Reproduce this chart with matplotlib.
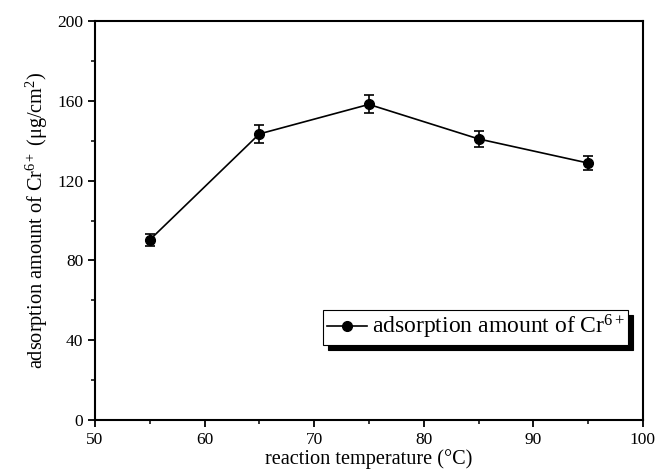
import numpy as np
import matplotlib.pyplot as plt

plt.rcParams['font.family'] = 'Liberation Serif'
plt.rcParams['mathtext.fontset'] = 'custom'
plt.rcParams['mathtext.rm'] = 'Liberation Serif'
plt.rcParams['mathtext.it'] = 'Liberation Serif:italic'

temperature = [55, 65, 75, 85, 95]
adsorption = [90.3, 143.4, 158.2, 140.9, 128.8]
error = [3.0, 4.5, 4.5, 4.0, 3.5]

fig = plt.figure(figsize=(6.56, 4.73), dpi=100)
ax = fig.add_axes([0.1448, 0.112, 0.8352, 0.8436])

ax.errorbar(temperature, adsorption, yerr=error, color="black", lw=1.2,
            fmt="none", capsize=3.5, elinewidth=1.2, capthick=1.2)
ax.plot(temperature, adsorption, color="black", lw=1.2, marker="o", ms=7,
        label="adsorption amount of Cr$^{6+}$")

ax.set_xlim(50, 100)
ax.set_ylim(0, 200)
ax.set_xticks(np.arange(50, 101, 10))
ax.set_yticks(np.arange(0, 201, 40))
ax.set_xticks(np.arange(55, 100, 10), minor=True)
ax.set_yticks(np.arange(20, 200, 40), minor=True)
ax.tick_params(which="major", direction="out", length=5, width=1.3, labelsize=12.5)
ax.tick_params(which="minor", direction="out", length=3, width=1.1)
for s in ax.spines.values():
    s.set_linewidth(1.5)

ax.set_xlabel("reaction temperature (°C)", fontsize=14.6, labelpad=1)
ax.set_ylabel("adsorption amount of Cr$^{6+}$ (μg/cm$^{2}$)", fontsize=14.6, labelpad=5)

leg = ax.legend(loc="lower right", bbox_to_anchor=(0.973, 0.188), borderaxespad=0,
                fontsize=17, fancybox=False, framealpha=1, edgecolor="black",
                shadow={"ox": 3.5, "oy": -3.5, "color": "black", "alpha": 1},
                handlelength=1.7, handletextpad=0.2, borderpad=0.15)
leg.get_frame().set_linewidth(0.8)

fig.savefig("out.png")
